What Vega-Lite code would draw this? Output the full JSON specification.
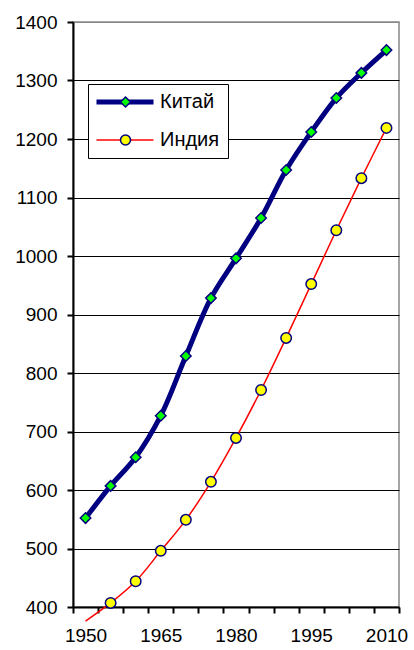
{
  "$schema": "https://vega.github.io/schema/vega-lite/v6.json",
  "width": 326,
  "height": 585,
  "autosize": {"type": "none"},
  "padding": {"left": 73, "top": 22, "right": 15, "bottom": 43},
  "background": "white",
  "config": {
    "view": {"stroke": "#888888", "strokeWidth": 1.5},
    "font": "Liberation Sans"
  },
  "data": {
    "values": [
      {"year": 1950, "country": "Китай", "value": 552},
      {"year": 1955, "country": "Китай", "value": 607},
      {"year": 1960, "country": "Китай", "value": 656},
      {"year": 1965, "country": "Китай", "value": 727},
      {"year": 1970, "country": "Китай", "value": 829},
      {"year": 1975, "country": "Китай", "value": 928},
      {"year": 1980, "country": "Китай", "value": 996},
      {"year": 1985, "country": "Китай", "value": 1065},
      {"year": 1990, "country": "Китай", "value": 1147},
      {"year": 1995, "country": "Китай", "value": 1212},
      {"year": 2000, "country": "Китай", "value": 1270},
      {"year": 2005, "country": "Китай", "value": 1313},
      {"year": 2010, "country": "Китай", "value": 1352},
      {"year": 1950, "country": "Индия", "value": 376},
      {"year": 1955, "country": "Индия", "value": 407},
      {"year": 1960, "country": "Индия", "value": 444},
      {"year": 1965, "country": "Индия", "value": 496},
      {"year": 1970, "country": "Индия", "value": 549},
      {"year": 1975, "country": "Индия", "value": 614},
      {"year": 1980, "country": "Индия", "value": 689},
      {"year": 1985, "country": "Индия", "value": 771},
      {"year": 1990, "country": "Индия", "value": 860},
      {"year": 1995, "country": "Индия", "value": 952},
      {"year": 2000, "country": "Индия", "value": 1044},
      {"year": 2005, "country": "Индия", "value": 1133},
      {"year": 2010, "country": "Индия", "value": 1219}
    ]
  },
  "encoding": {
    "x": {
      "field": "year",
      "type": "ordinal",
      "bandPosition": 0.5,
      "scale": {"type": "band", "paddingInner": 0, "paddingOuter": 0},
      "axis": {
        "title": null,
        "tickBand": "extent",
        "labelAngle": 0,
        "labelExpr": "datum.value % 15 == 0 ? datum.label : ''",
        "labelFontSize": 19,
        "labelColor": "black",
        "labelPadding": 13,
        "domainColor": "black",
        "domainWidth": 2,
        "tickColor": "black",
        "tickWidth": 2,
        "tickSize": 6,
        "grid": false
      }
    },
    "y": {
      "field": "value",
      "type": "quantitative",
      "scale": {"domain": [400, 1400], "nice": false, "zero": false},
      "axis": {
        "title": null,
        "format": "d",
        "values": [400, 500, 600, 700, 800, 900, 1000, 1100, 1200, 1300, 1400],
        "labelFontSize": 19,
        "labelColor": "black",
        "labelPadding": 10,
        "domainColor": "black",
        "domainWidth": 2,
        "tickColor": "black",
        "tickWidth": 2,
        "tickSize": 6,
        "grid": true,
        "gridColor": {"condition": {"test": "datum.value == 1400", "value": "#888888"}, "value": "black"},
        "gridWidth": 1.2
      }
    }
  },
  "layer": [
    {
      "mark": {"type": "line", "interpolate": "catmull-rom", "clip": false},
      "encoding": {
        "color": {
          "field": "country",
          "type": "nominal",
          "scale": {"domain": ["Китай", "Индия"], "range": ["#000080", "#FF0000"]},
          "legend": {
            "title": null,
            "orient": "none",
            "legendX": 15,
            "legendY": 62,
            "padding": 8,
            "fillColor": "white",
            "strokeColor": "black",
            "symbolType": "M-5,0H5",
            "symbolSize": 130,
            "symbolOffset": 19,
            "labelOffset": 25,
            "labelFontSize": 20,
            "labelColor": "black",
            "rowPadding": 18
          }
        },
        "strokeWidth": {
          "field": "country",
          "type": "nominal",
          "scale": {"domain": ["Китай", "Индия"], "range": [5, 1.5]}
        }
      }
    },
    {
      "transform": [{"filter": "datum.value >= 400"}],
      "mark": {"type": "point", "filled": true, "stroke": "#000080", "strokeWidth": 1.5, "size": 110, "opacity": 1},
      "encoding": {
        "fill": {
          "field": "country",
          "type": "nominal",
          "sort": "descending",
          "scale": {"range": ["#00FF00", "#FFFF00"]},
          "legend": {
            "title": null,
            "orient": "none",
            "legendX": 15,
            "legendY": 62,
            "padding": 8,
            "symbolOffset": 19.5,
            "labelOffset": 25,
            "labelFontSize": 20,
            "labelOpacity": 0,
            "rowPadding": 18,
            "symbolStrokeColor": "#000080",
            "symbolStrokeWidth": 1.5
          }
        },
        "shape": {
          "field": "country",
          "type": "nominal",
          "sort": "descending",
          "scale": {"range": ["diamond", "circle"]}
        }
      }
    }
  ]
}
